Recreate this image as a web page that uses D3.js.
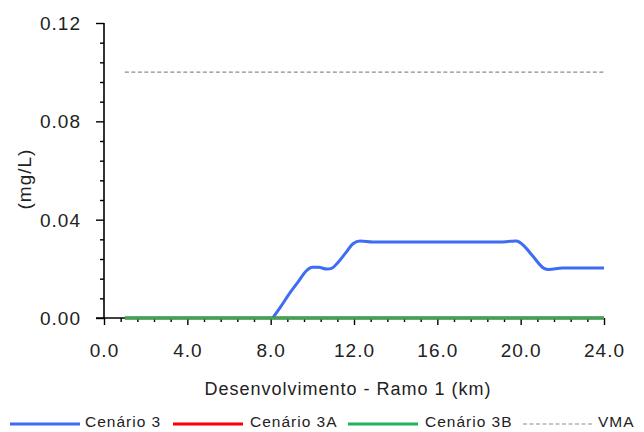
<!DOCTYPE html>
<html>
<head>
<meta charset="utf-8">
<script src="https://cdn.jsdelivr.net/npm/d3@7"></script>
<style>
  html, body { margin: 0; padding: 0; background: #fff; }
  svg { display: block; font-family: "Liberation Sans", Arial, sans-serif; }
</style>
</head>
<body>
<svg id="chart" width="644" height="432"></svg>
<script>
// Distance along the branch (km) and concentrations (mg/L)
const kmCenario3 = [8.1, 8.5, 8.85, 9.3, 9.75, 10.0, 10.3, 10.7, 10.95, 11.2, 11.6, 11.95, 12.3, 12.9, 16.0, 19.0, 19.5, 19.8, 20.1, 20.6, 21.1, 21.35, 22.0, 24.0];
const valCenario3 = [0.0, 0.0048, 0.0093, 0.0145, 0.0195, 0.0206, 0.0206, 0.0199, 0.0203, 0.0223, 0.0265, 0.0302, 0.0313, 0.0309, 0.0309, 0.0309, 0.0312, 0.0313, 0.0298, 0.0250, 0.0203, 0.0197, 0.0203, 0.0203];

const kmCenario3A = [1.0, 24.0];
const valCenario3A = [0.0, 0.0];

const kmCenario3B = [1.0, 24.0];
const valCenario3B = [0.0, 0.0];

const kmVMA = [1.0, 24.0];
const valVMA = [0.10, 0.10];

const xTickValues = [0, 4, 8, 12, 16, 20, 24];
const yTickValues = [0, 0.04, 0.08, 0.12];

const seriesNames = ["Cenário 3", "Cenário 3A", "Cenário 3B", "VMA"];
const seriesColors = ["#3d6df2", "#ff0000", "#1db45a", "#8c8c8c"];

const svg = d3.select("#chart");

const x = d3.scaleLinear().domain([0, 24]).range([104, 604]);
const y = d3.scaleLinear().domain([0, 0.12]).range([318, 23]);

const textColor = "#222";

// minor ticks
const xMinor = d3.range(0, 24.001, 0.8).filter(v => !xTickValues.some(t => Math.abs(t - v) < 1e-6));
const yMinor = d3.range(0, 0.12001, 0.008).filter(v => !yTickValues.some(t => Math.abs(t - v) < 1e-9));

const xAxisMinor = svg.append("g").attr("transform", `translate(0,${y(0)})`)
  .call(d3.axisBottom(x).tickValues(xMinor).tickSize(4).tickFormat(""));
const yAxisMinor = svg.append("g").attr("transform", `translate(${x(0)},0)`)
  .call(d3.axisLeft(y).tickValues(yMinor).tickSize(4).tickFormat(""));

const xAxis = svg.append("g").attr("transform", `translate(0,${y(0)})`)
  .call(d3.axisBottom(x).tickValues(xTickValues).tickSize(7).tickPadding(19)
    .tickFormat(d3.format(".1f")));
const yAxis = svg.append("g").attr("transform", `translate(${x(0)},0)`)
  .call(d3.axisLeft(y).tickValues(yTickValues).tickSize(8).tickPadding(15)
    .tickFormat(d3.format(".2f")));

[xAxis, yAxis, xAxisMinor, yAxisMinor].forEach(g => {
  g.selectAll("path.domain").remove();
  g.selectAll("line").attr("stroke", "#000").attr("stroke-width", 1.4);
  g.selectAll("text").attr("fill", textColor).style("font-size", "19px")
    .style("letter-spacing", "1px").attr("font-family", null);
});
yAxis.selectAll("text").attr("dy", "0.35em");

// axis lines
svg.append("line").attr("x1", x(0)).attr("x2", x(0)).attr("y1", y(0.12)).attr("y2", y(0))
  .attr("stroke", "#000").attr("stroke-width", 1.6);
svg.append("line").attr("x1", x(0) - 8).attr("x2", x(24)).attr("y1", y(0)).attr("y2", y(0))
  .attr("stroke", "#000").attr("stroke-width", 1.6);

const line = d3.line().x(d => x(d[0])).y(d => y(d[1]));
const smooth = d3.line().x(d => x(d[0])).y(d => y(d[1])).curve(d3.curveMonotoneX);

// VMA threshold
svg.append("path").datum(d3.zip(kmVMA, valVMA))
  .attr("d", line).attr("fill", "none")
  .attr("stroke", seriesColors[3]).attr("stroke-width", 1.2).attr("stroke-dasharray", "4,2.5");

svg.append("path").datum(d3.zip(kmCenario3, valCenario3))
  .attr("d", smooth).attr("fill", "none")
  .attr("stroke", seriesColors[0]).attr("stroke-width", 3).attr("stroke-linejoin", "round");

svg.append("path").datum(d3.zip(kmCenario3A, valCenario3A))
  .attr("d", line).attr("fill", "none")
  .attr("stroke", seriesColors[1]).attr("stroke-width", 3);

svg.append("path").datum(d3.zip(kmCenario3B, valCenario3B))
  .attr("d", line).attr("fill", "none")
  .attr("stroke", seriesColors[2]).attr("stroke-width", 3);

// axis titles
svg.append("text").attr("x", 348).attr("y", 395).attr("text-anchor", "middle")
  .attr("fill", textColor).style("font-size", "18px").style("letter-spacing", "1px")
  .text("Desenvolvimento - Ramo 1 (km)");

svg.append("text").attr("transform", "translate(31,179) rotate(-90)").attr("text-anchor", "middle")
  .attr("fill", textColor).style("font-size", "19px").style("letter-spacing", "1px")
  .text("(mg/L)");

// legend
const legendItems = [
  { lx: 10, tx: 85 },
  { lx: 173, tx: 250 },
  { lx: 348, tx: 425 },
  { lx: 523, tx: 598 }
];
const legend = svg.append("g");
legendItems.forEach((it, i) => {
  const ln = legend.append("line").attr("x1", it.lx).attr("x2", it.lx + 70)
    .attr("y1", 424).attr("y2", 424).attr("stroke", seriesColors[i]);
  if (i === 3) ln.attr("stroke-width", 1.2).attr("stroke-dasharray", "4,2.5");
  else ln.attr("stroke-width", 3);
  legend.append("text").attr("x", it.tx).attr("y", 427)
    .attr("fill", textColor).style("font-size", "15.5px").style("letter-spacing", "1px")
    .text(seriesNames[i]);
});
</script>
</body>
</html>
